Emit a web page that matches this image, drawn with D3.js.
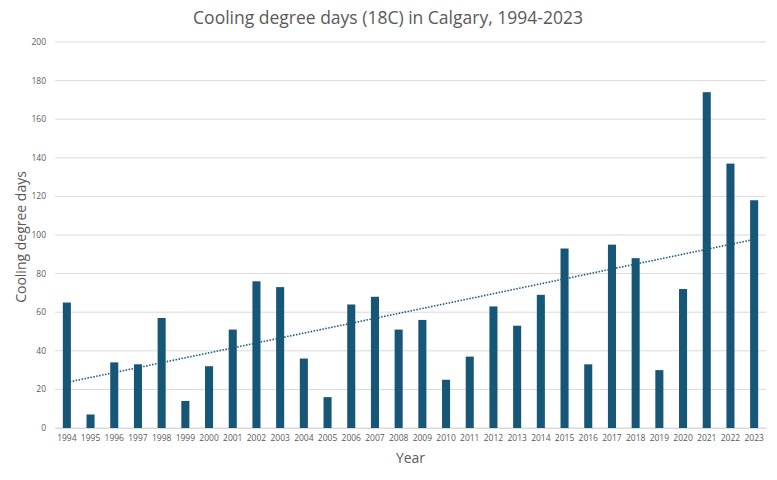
<!DOCTYPE html>
<html><head><meta charset="utf-8">
<script src="https://cdn.jsdelivr.net/npm/d3@7"></script>
<style>body{margin:0;background:#fff}svg{display:block}text{font-family:"Open Sans",sans-serif}</style>
</head><body><svg id="c" width="777" height="480"></svg>
<script>
const years = ["1994","1995","1996","1997","1998","1999","2000","2001","2002","2003","2004","2005","2006","2007","2008","2009","2010","2011","2012","2013","2014","2015","2016","2017","2018","2019","2020","2021","2022","2023"];
const cdd = [65,7,34,33,57,14,32,51,76,73,36,16,64,68,51,56,25,37,63,53,69,93,33,95,88,30,72,174,137,118];
const yTicks = [0,20,40,60,80,100,120,140,160,180,200];

const svg = d3.select("#c");
const m = {l:55, r:11, t:42, b:52};
const W = 777, H = 480;
const x = d3.scaleBand().domain(years).range([m.l, W-m.r]).paddingInner(0.66).paddingOuter(0.33);
const y = d3.scaleLinear().domain([0,200]).range([H-m.b, m.t]);

// gridlines
svg.append("g").selectAll("line").data(yTicks).join("line")
  .attr("x1", m.l).attr("x2", W-m.r)
  .attr("y1", d=>y(d)).attr("y2", d=>y(d))
  .attr("stroke","#d9d9d9").attr("stroke-width",1);

// y tick labels
svg.append("g").selectAll("text").data(yTicks).join("text")
  .attr("x", 46).attr("y", d=>y(d)+3)
  .attr("text-anchor","end").attr("font-size",8.5).attr("fill","#595959")
  .text(d=>d);

// bars
svg.append("g").selectAll("rect").data(cdd).join("rect")
  .attr("x",(d,i)=>x(years[i])).attr("width",x.bandwidth())
  .attr("y",d=>y(d)).attr("height",d=>y(0)-y(d))
  .attr("fill","#165677");

// x axis labels
const xAxis = d3.axisBottom(x).tickSize(0).tickPadding(7);
const gx = svg.append("g").attr("transform",`translate(0,${y(0)})`).call(xAxis);
gx.select(".domain").attr("stroke","#d9d9d9");
gx.selectAll("text").attr("font-size",8.5).attr("fill","#595959").attr("font-family","'Open Sans',sans-serif");

// linear trendline (least squares over index)
const n = cdd.length;
const xs = d3.range(n);
const mx = d3.mean(xs), my = d3.mean(cdd);
const slope = d3.sum(xs, i => (i-mx)*(cdd[i]-my)) / d3.sum(xs, i => (i-mx)*(i-mx));
const icpt = my - slope*mx;
const cx = i => x(years[i]) + x.bandwidth()/2;
svg.append("line")
  .attr("x1", cx(0)).attr("y1", y(icpt))
  .attr("x2", cx(n-1)).attr("y2", y(icpt + slope*(n-1)))
  .attr("stroke","#1b5a7a").attr("stroke-width",1.6).attr("stroke-dasharray","1.5,1.5");

// titles
svg.append("text").attr("x",388).attr("y",24).attr("text-anchor","middle")
  .attr("font-size",17.5).attr("fill","#595959").text("Cooling degree days (18C) in Calgary, 1994-2023");
svg.append("text").attr("transform",`translate(26,${(m.t+H-m.b)/2+2}) rotate(-90)`).attr("text-anchor","middle")
  .attr("font-size",14).attr("fill","#595959").text("Cooling degree days");
svg.append("text").attr("x",(m.l+W-m.r)/2).attr("y",463).attr("text-anchor","middle")
  .attr("font-size",14).attr("fill","#595959").text("Year");
</script></body></html>
